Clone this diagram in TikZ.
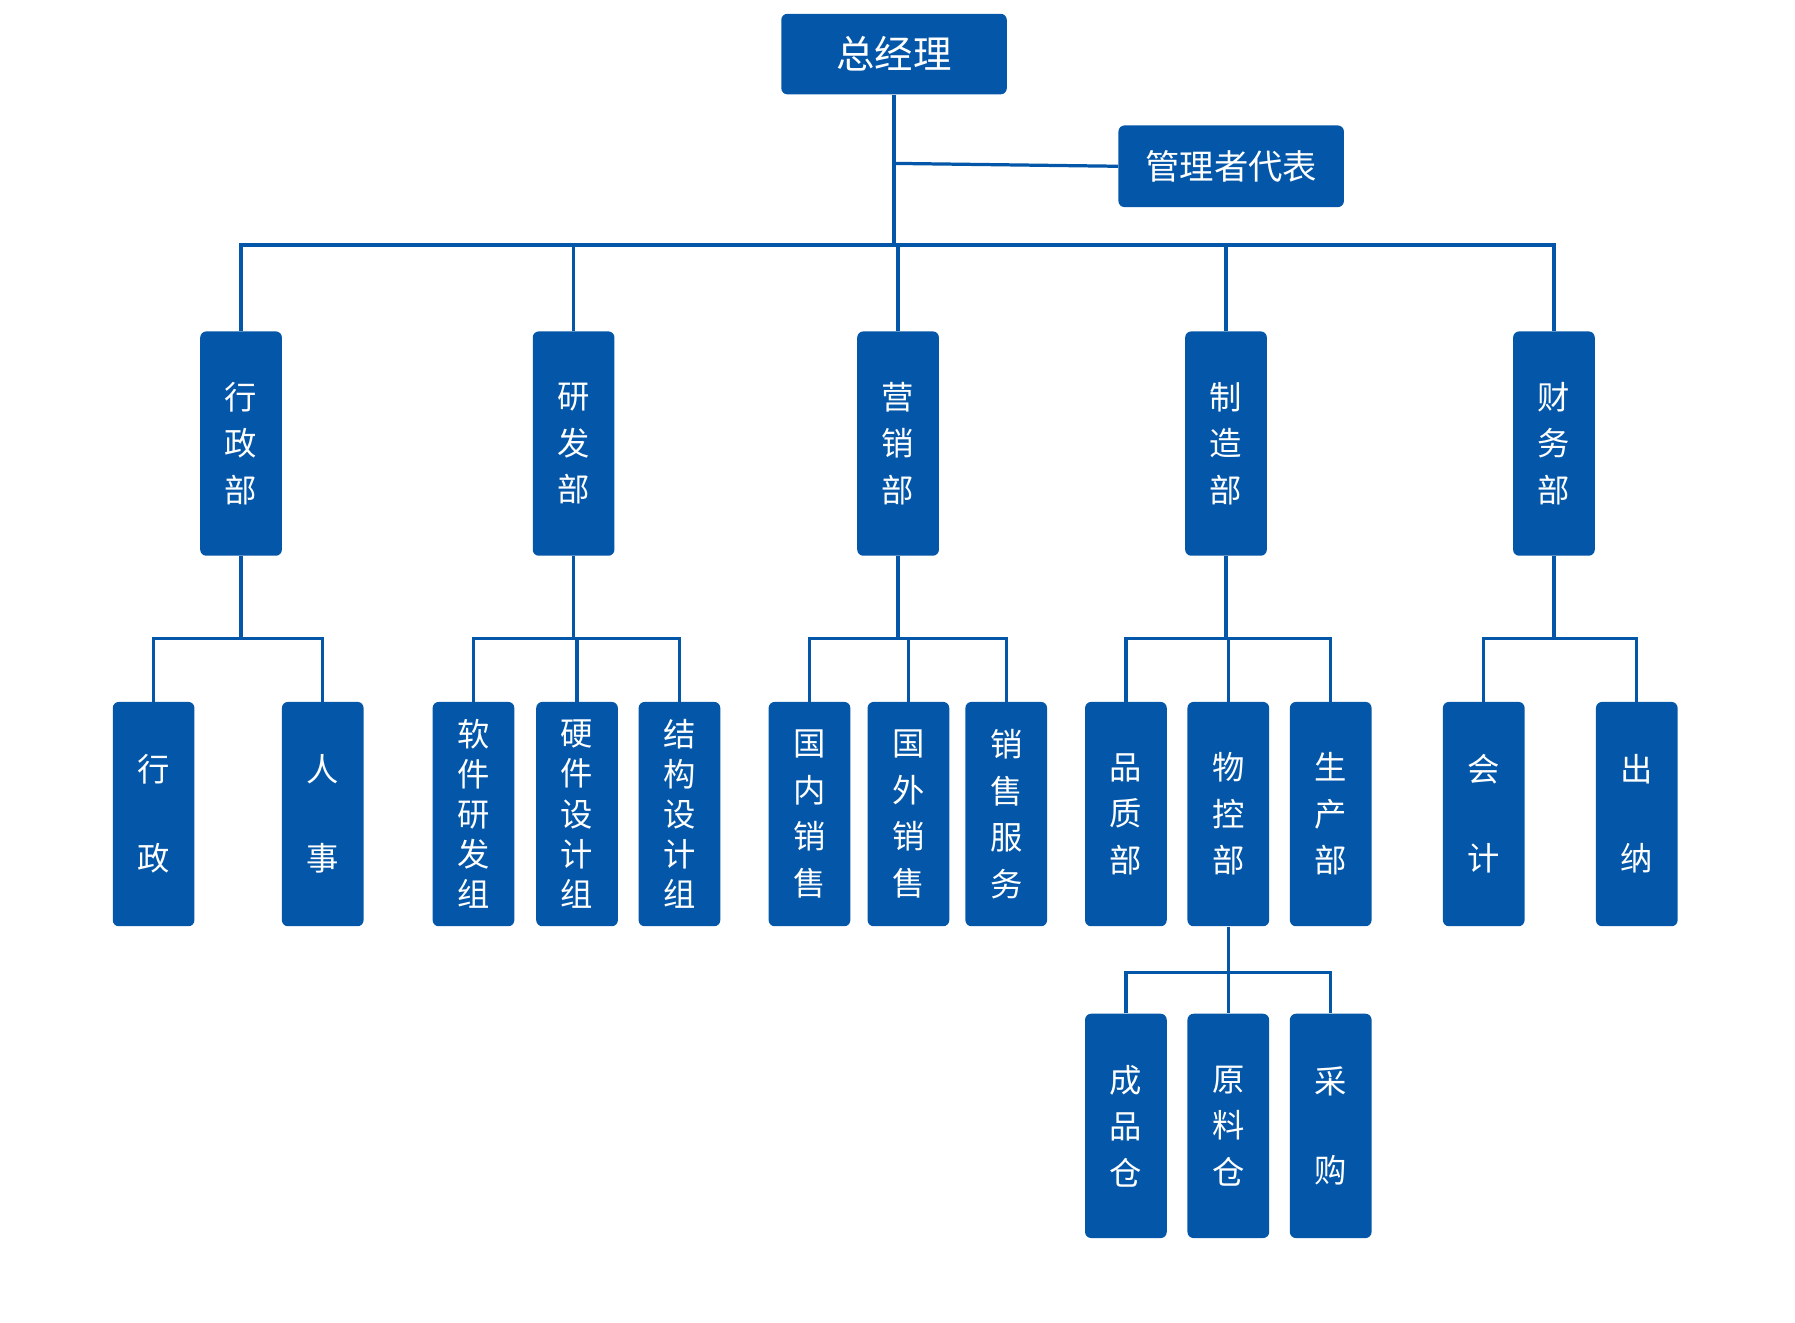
\documentclass[tikz,border=0pt]{standalone}
\usepackage{fontspec}
\setmainfont{Noto Sans CJK SC}
\definecolor{bl}{HTML}{0456A8}
\begin{document}
\begin{tikzpicture}[x=0.02cm,y=-0.02cm,
 box/.style={fill=bl,draw=none,rounded corners=3pt,text=white,align=center,inner sep=0pt,minimum width=1.42cm,minimum height=3.9cm,font=\fontsize{16}{23}\selectfont},
 five/.style={font=\fontsize{16}{19.8}\selectfont},
 two/.style={font=\fontsize{16}{44}\selectfont},
 ln/.style={draw=bl,line width=1.6pt}]
\useasboundingbox (0,0) rectangle (1560,1149);
\node[box,minimum width=3.92cm,minimum height=1.4cm,font=\fontsize{19}{22}\selectfont] (gm) at (777,47) {总经理};
\node[box,minimum width=3.92cm,minimum height=1.42cm,font=\fontsize{17}{20}\selectfont] (rep) at (1070,144.5) {管理者代表};
\node[box] (d1) at (209.5,385.5) {行\\政\\部};
\node[box] (d2) at (498.5,385.5) {研\\发\\部};
\node[box] (d3) at (780.5,385.5) {营\\销\\部};
\node[box] (d4) at (1065.5,385.5) {制\\造\\部};
\node[box] (d5) at (1350.5,385.5) {财\\务\\部};
\node[box,two] (a1) at (133.5,707.5) {行\\政};
\node[box,two] (a2) at (280.5,707.5) {人\\事};
\node[box,five] (b1) at (411.5,707.5) {软\\件\\研\\发\\组};
\node[box,five] (b2) at (501.5,707.5) {硬\\件\\设\\计\\组};
\node[box,five] (b3) at (590.5,707.5) {结\\构\\设\\计\\组};
\node[box] (c1) at (703.5,707.5) {国\\内\\销\\售};
\node[box] (c2) at (789.5,707.5) {国\\外\\销\\售};
\node[box] (c3) at (874.5,707.5) {销\\售\\服\\务};
\node[box] (e1) at (978.5,707.5) {品\\质\\部};
\node[box] (e2) at (1067.5,707.5) {物\\控\\部};
\node[box] (e3) at (1156.5,707.5) {生\\产\\部};
\node[box,two] (f1) at (1289.5,707.5) {会\\计};
\node[box,two] (f2) at (1422.5,707.5) {出\\纳};
\node[box] (g1) at (978.5,978.5) {成\\品\\仓};
\node[box] (g2) at (1067.5,978.5) {原\\料\\仓};
\node[box,two] (g3) at (1156.5,978.5) {采\\购};
% top
\draw[ln] (gm.south) -- (gm.south |- 0,213);
\draw[ln] (gm.south |- 0,142) -- (rep.west);
\draw[ln] (d1.north) -- (d1.north |- 0,213) -| (d5.north);
\draw[ln] (d2.north) -- (d2.north |- 0,213);
\draw[ln] (d3.north) -- (d3.north |- 0,213);
\draw[ln] (d4.north) -- (d4.north |- 0,213);
% children
\draw[ln] (d1.south) -- (d1.south |- 0,555);
\draw[ln] (a1.north) -- (a1.north |- 0,555) -| (a2.north);
\draw[ln] (d2.south) -- (d2.south |- 0,555);
\draw[ln] (b1.north) -- (b1.north |- 0,555) -| (b3.north);
\draw[ln] (b2.north) -- (b2.north |- 0,555);
\draw[ln] (d3.south) -- (d3.south |- 0,555);
\draw[ln] (c1.north) -- (c1.north |- 0,555) -| (c3.north);
\draw[ln] (c2.north) -- (c2.north |- 0,555);
\draw[ln] (d4.south) -- (d4.south |- 0,555);
\draw[ln] (e1.north) -- (e1.north |- 0,555) -| (e3.north);
\draw[ln] (e2.north) -- (e2.north |- 0,555);
\draw[ln] (d5.south) -- (d5.south |- 0,555);
\draw[ln] (f1.north) -- (f1.north |- 0,555) -| (f2.north);
\draw[ln] (e2.south) -- (g2.north);
\draw[ln] (g1.north) -- (g1.north |- 0,845) -| (g3.north);
\end{tikzpicture}
\end{document}
